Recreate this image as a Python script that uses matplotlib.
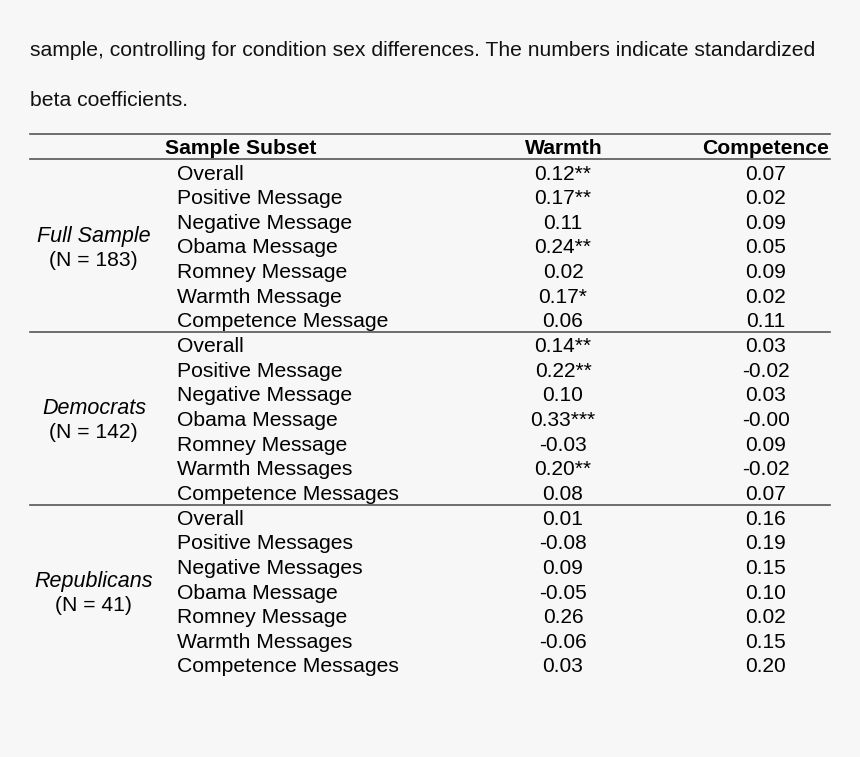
import matplotlib.pyplot as plt

plt.rcParams['font.family'] = ['Liberation Sans', 'DejaVu Sans']

caption = ["sample, controlling for condition sex differences. The numbers indicate standardized",
           "beta coefficients."]
headers = ["Sample Subset", "Warmth", "Competence"]

groups = ["Full Sample", "Democrats", "Republicans"]
group_n = ["(N = 183)", "(N = 142)", "(N = 41)"]

full_rows = ["Overall", "Positive Message", "Negative Message", "Obama Message",
             "Romney Message", "Warmth Message", "Competence Message"]
full_warmth = ["0.12**", "0.17**", "0.11", "0.24**", "0.02", "0.17*", "0.06"]
full_comp = ["0.07", "0.02", "0.09", "0.05", "0.09", "0.02", "0.11"]

dem_rows = ["Overall", "Positive Message", "Negative Message", "Obama Message",
            "Romney Message", "Warmth Messages", "Competence Messages"]
dem_warmth = ["0.14**", "0.22**", "0.10", "0.33***", "-0.03", "0.20**", "0.08"]
dem_comp = ["0.03", "-0.02", "0.03", "-0.00", "0.09", "-0.02", "0.07"]

rep_rows = ["Overall", "Positive Messages", "Negative Messages", "Obama Message",
            "Romney Message", "Warmth Messages", "Competence Messages"]
rep_warmth = ["0.01", "-0.08", "0.09", "-0.05", "0.26", "-0.06", "0.03"]
rep_comp = ["0.16", "0.19", "0.15", "0.10", "0.02", "0.15", "0.20"]

W, H = 860, 757
fig = plt.figure(figsize=(W / 100, H / 100), dpi=100, facecolor='#f7f7f7')

def fy(y):
    return 1 - y / H

def fx(x):
    return x / W

def rule(y):
    fig.add_artist(plt.Line2D([fx(30), fx(830)], [fy(y), fy(y)], color='#555555', lw=1.2))

# caption lines
fig.text(fx(30), fy(48), caption[0], fontsize=15.2, va='center_baseline', ha='left', color='#111111')
fig.text(fx(30), fy(98), caption[1], fontsize=15.2, va='center_baseline', ha='left', color='#111111')

rule(134)
fig.text(fx(241), fy(147), headers[0], fontsize=15.2, fontweight='bold', ha='center', va='center_baseline')
fig.text(fx(564), fy(147), headers[1], fontsize=15.2, fontweight='bold', ha='center', va='center_baseline')
fig.text(fx(766), fy(147), headers[2], fontsize=15.2, fontweight='bold', ha='center', va='center_baseline')
rule(159)

row_y0 = 172
pitch = 24.65
fs = 15.2
blocks = [(full_rows, full_warmth, full_comp),
          (dem_rows, dem_warmth, dem_comp),
          (rep_rows, rep_warmth, rep_comp)]
k = 0
for g, (rows, warm, comp) in enumerate(blocks):
    start = k
    for lab, w, c in zip(rows, warm, comp):
        y = row_y0 + pitch * k
        fig.text(fx(177), fy(y), lab, fontsize=fs, ha='left', va='center_baseline')
        fig.text(fx(563), fy(y), w, fontsize=fs - 0.2, ha='center', va='center_baseline')
        fig.text(fx(766), fy(y), c, fontsize=fs - 0.2, ha='center', va='center_baseline')
        k += 1
    gy = row_y0 + pitch * (start + 2.5)
    fig.text(fx(94), fy(gy), groups[g], fontsize=fs + 0.3, style='italic', ha='center', va='center_baseline')
    fig.text(fx(93), fy(gy + pitch), group_n[g], fontsize=fs, ha='center', va='center_baseline')
    if g < 2:
        rule(row_y0 + pitch * (k - 1) + 12.5)

fig.savefig('out.png', dpi=100, facecolor=fig.get_facecolor())
